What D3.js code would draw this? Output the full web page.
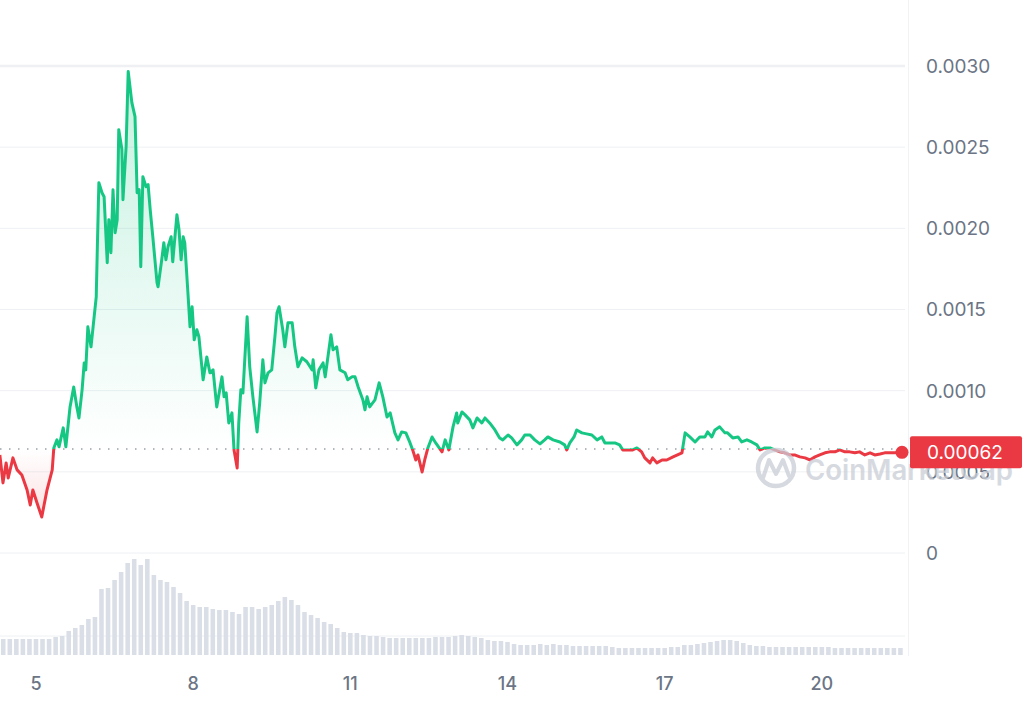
<!DOCTYPE html>
<html>
<head>
<meta charset="utf-8">
<script src="https://cdn.jsdelivr.net/npm/d3@7"></script>
<style>
  html, body { margin: 0; padding: 0; background: #fff; }
  svg { display: block; font-family: Inter, "Noto Sans", sans-serif; }
</style>
</head>
<body>
<svg id="chart" width="1024" height="704"></svg>
<script>
// ---------------- DATA ----------------
// day of month (fractional) for each price sample
const priceDays = [4.31,4.37,4.43,4.47,4.56,4.64,4.73,4.83,4.89,4.94,5.02,5.11,5.21,5.31,5.34,5.40,5.44,5.52,5.57,5.65,
5.72,5.78,5.82,5.88,5.92,5.95,5.99,6.05,6.09,6.15,6.16,6.20,6.26,6.30,6.36,6.39,6.43,6.47,6.51,6.55,
6.58,6.64,6.66,6.72,6.76,6.83,6.89,6.93,6.97,7.00,7.04,7.10,7.14,7.18,7.23,7.31,7.33,7.40,7.44,7.48,
7.52,7.58,7.61,7.69,7.73,7.77,7.81,7.84,7.90,7.94,7.98,8.02,8.07,8.11,8.19,8.26,8.32,8.38,8.45,8.55,
8.59,8.63,8.68,8.74,8.78,8.84,8.87,8.91,8.95,9.03,9.08,9.14,9.22,9.27,9.33,9.37,9.43,9.50,9.56,9.60,
9.64,9.71,9.75,9.81,9.89,9.94,10.00,10.08,10.17,10.27,10.29,10.34,10.40,10.48,10.52,10.63,10.67,10.74,10.80,10.90,
10.95,11.03,11.09,11.15,11.24,11.28,11.32,11.37,11.47,11.55,11.62,11.70,11.76,11.85,11.91,11.98,12.06,12.14,12.19,12.25,
12.29,12.37,12.42,12.48,12.56,12.63,12.75,12.81,12.88,12.96,13.03,13.05,13.13,13.19,13.28,13.34,13.42,13.51,13.57,13.66,
13.76,13.85,13.91,14.01,14.08,14.18,14.27,14.33,14.43,14.52,14.62,14.71,14.77,14.87,15.00,15.09,15.13,15.19,15.27,15.32,
15.42,15.51,15.61,15.71,15.80,15.86,15.95,16.05,16.14,16.20,16.30,16.39,16.47,16.56,16.62,16.72,16.77,16.85,16.95,17.04,
17.16,17.33,17.39,17.48,17.58,17.67,17.77,17.82,17.90,17.96,18.05,18.15,18.20,18.30,18.40,18.47,18.57,18.66,18.76,18.82,
18.91,19.01,19.10,19.20,19.29,19.39,19.48,19.58,19.68,19.77,19.87,19.96,20.06,20.15,20.25,20.34,20.44,20.53,20.63,20.72,
20.82,20.92,21.01,21.11,21.20,21.30,21.39,21.53];

// price (USD)
const prices = [0.000604,0.000432,0.000555,0.000462,0.000586,0.000512,0.000481,0.000388,0.000296,0.000388,0.000308,0.000222,0.000388,0.000512,0.000647,0.000697,0.000654,0.000771,0.000654,0.000900,
0.001023,0.000900,0.000832,0.001005,0.001171,0.001128,0.001393,0.001270,0.001393,0.001578,0.001726,0.002281,0.002219,0.002195,0.001788,0.002053,0.001850,0.002238,0.001973,0.002053,
0.002608,0.002485,0.002176,0.002503,0.002966,0.002774,0.002688,0.002219,0.002238,0.001763,0.002318,0.002256,0.002269,0.002115,0.001948,0.001665,0.001640,0.001806,0.001911,0.001806,
0.001887,0.001948,0.001794,0.002084,0.001991,0.001806,0.001948,0.001911,0.001603,0.001393,0.001517,0.001313,0.001375,0.001332,0.001067,0.001208,0.001110,0.001128,0.000900,0.001085,
0.000962,0.000986,0.000801,0.000863,0.000635,0.000524,0.000801,0.001005,0.000986,0.001455,0.001147,0.000962,0.000746,0.000925,0.001190,0.001048,0.001110,0.001128,0.001332,0.001480,
0.001517,0.001375,0.001270,0.001418,0.001418,0.001270,0.001147,0.001202,0.001178,0.001128,0.001190,0.001017,0.001128,0.001171,0.001085,0.001344,0.001252,0.001270,0.001128,0.001110,
0.001067,0.001085,0.001085,0.001023,0.000943,0.000882,0.000962,0.000900,0.000943,0.001048,0.000962,0.000838,0.000863,0.000740,0.000697,0.000746,0.000740,0.000678,0.000635,0.000573,
0.000604,0.000499,0.000573,0.000647,0.000715,0.000678,0.000623,0.000697,0.000635,0.000777,0.000863,0.000801,0.000869,0.000851,0.000820,0.000771,0.000832,0.000801,0.000832,0.000801,
0.000758,0.000709,0.000697,0.000727,0.000709,0.000666,0.000697,0.000727,0.000727,0.000697,0.000672,0.000697,0.000715,0.000697,0.000684,0.000666,0.000635,0.000678,0.000715,0.000758,
0.000740,0.000734,0.000727,0.000697,0.000715,0.000678,0.000678,0.000678,0.000666,0.000635,0.000635,0.000635,0.000647,0.000623,0.000586,0.000555,0.000586,0.000555,0.000573,0.000573,
0.000592,0.000617,0.000740,0.000715,0.000684,0.000715,0.000715,0.000746,0.000715,0.000758,0.000777,0.000740,0.000740,0.000709,0.000715,0.000684,0.000697,0.000684,0.000666,0.000635,
0.000647,0.000647,0.000635,0.000623,0.000617,0.000604,0.000604,0.000592,0.000586,0.000573,0.000592,0.000604,0.000617,0.000623,0.000623,0.000635,0.000623,0.000623,0.000617,0.000623,
0.000604,0.000617,0.000604,0.000610,0.000617,0.000617,0.000617,0.000620];

const openPrice = 0.000641;     // dotted reference line
const lastPriceLabel = "0.00062";

// volume, one bar every 3 hours starting at day 4.375 (relative units)
const volStartDay = 4.375;
const volStepDays = 0.125;
const volumes = [16,16,16,16,16,16,16,16,18,19,24,27,30,36,38,66,67,75,83,92,
96,90,96,80,75,73,68,62,54,50,48,48,46,45,45,43,41,48,48,46,
48,50,54,58,55,50,43,40,37,33,31,27,23,22,22,20,19,19,18,17,
17,17,17,17,17,17,18,18,18,19,20,19,18,17,15,14,14,13,11,10,
10,10,11,10,11,10,10,9,9,9,9,9,9,8,7,7,7,7,7,7,
7,7,8,8,10,10,11,12,13,14,15,15,14,12,10,9,9,8,8,8,
8,8,8,8,8,8,8,7,7,7,7,7,7,7,7,7,7,7];

const yTickValues = [0, 0.0005, 0.0010, 0.0015, 0.0020, 0.0025, 0.0030];
const yTickLabels = ["0", "0.0005", "0.0010", "0.0015", "0.0020", "0.0025", "0.0030"];
const xTickValues = [5, 8, 11, 14, 17, 20];

// ---------------- CHART ----------------
const GREEN = "#16c784", RED = "#ea3943";
const svg = d3.select("#chart");
const plotRight = 905;

const x = d3.scaleLinear().domain([4.313, 21.53]).range([0, 902]);
const y = d3.scaleLinear().domain([0, 0.003]).range([553, 66]);
const yv = d3.scaleLinear().domain([0, 100]).range([655, 555]);
const yBase = y(openPrice);

const defs = svg.append("defs");
const gGrad = defs.append("linearGradient").attr("id", "gGrad")
  .attr("gradientUnits", "userSpaceOnUse").attr("x1", 0).attr("x2", 0).attr("y1", y(0.003)).attr("y2", yBase);
gGrad.append("stop").attr("offset", 0).attr("stop-color", GREEN).attr("stop-opacity", 0.25);
gGrad.append("stop").attr("offset", 1).attr("stop-color", GREEN).attr("stop-opacity", 0.0);
const rGrad = defs.append("linearGradient").attr("id", "rGrad")
  .attr("gradientUnits", "userSpaceOnUse").attr("x1", 0).attr("x2", 0).attr("y1", yBase).attr("y2", y(0.0002));
rGrad.append("stop").attr("offset", 0).attr("stop-color", RED).attr("stop-opacity", 0.0);
rGrad.append("stop").attr("offset", 1).attr("stop-color", RED).attr("stop-opacity", 0.16);

defs.append("clipPath").attr("id", "clipAbove").append("rect")
  .attr("x", -10).attr("y", 0).attr("width", 1040).attr("height", yBase);
defs.append("clipPath").attr("id", "clipBelow").append("rect")
  .attr("x", -10).attr("y", yBase).attr("width", 1040).attr("height", 704 - yBase);

// grid lines
svg.append("g").selectAll("line").data(yTickValues).join("line")
  .attr("x1", 0).attr("x2", plotRight)
  .attr("y1", d => y(d)).attr("y2", d => y(d))
  .attr("stroke", "#eef0f3").attr("stroke-width", d => d === 0.003 ? 2.5 : 1);
svg.append("line").attr("x1", 0).attr("x2", plotRight).attr("y1", 636).attr("y2", 636)
  .attr("stroke", "#eef0f3");
svg.append("line").attr("x1", 908.5).attr("x2", 908.5).attr("y1", 0).attr("y2", 656)
  .attr("stroke", "#f0f2f5");

// volume bars
const volTimes = volumes.map((v, i) => volStartDay + i * volStepDays);
const bw = (x(volStepDays) - x(0)) - 2;
svg.append("g").selectAll("rect").data(volumes).join("rect")
  .attr("x", (d, i) => x(volTimes[i]) - bw / 2)
  .attr("width", bw)
  .attr("y", d => yv(d))
  .attr("height", d => yv(0) - yv(d))
  .attr("fill", "#d9dee7");

// price area & line
const pts = prices.map((p, i) => [priceDays[i], p]);
const area = d3.area().x(d => x(d[0])).y0(yBase).y1(d => y(d[1]));
const line = d3.line().x(d => x(d[0])).y(d => y(d[1]));

svg.append("path").datum(pts).attr("d", area).attr("fill", "url(#gGrad)").attr("clip-path", "url(#clipAbove)");
svg.append("path").datum(pts).attr("d", area).attr("fill", "url(#rGrad)").attr("clip-path", "url(#clipBelow)");

// dotted baseline
svg.append("line").attr("x1", 0).attr("x2", plotRight).attr("y1", yBase).attr("y2", yBase)
  .attr("stroke", "#9aa1ab").attr("stroke-width", 1.5).attr("stroke-dasharray", "1.5,7.5");

svg.append("path").datum(pts).attr("d", line).attr("fill", "none").attr("stroke", GREEN)
  .attr("stroke-width", 3).attr("stroke-linejoin", "round").attr("clip-path", "url(#clipAbove)");
svg.append("path").datum(pts).attr("d", line).attr("fill", "none").attr("stroke", RED)
  .attr("stroke-width", 3).attr("stroke-linejoin", "round").attr("clip-path", "url(#clipBelow)");

// y axis labels
svg.append("g").selectAll("text").data(yTickValues).join("text")
  .attr("x", 926).attr("y", d => y(d)).attr("dy", "0.36em")
  .attr("font-size", 19).attr("fill", "#6b7585")
  .text((d, i) => yTickLabels[i]);

// x axis labels
svg.append("g").selectAll("text").data(xTickValues).join("text")
  .attr("x", d => x(d)).attr("y", 690).attr("text-anchor", "middle")
  .attr("font-size", 18).attr("font-weight", 500).attr("fill", "#6b7585")
  .text(d => d);

// watermark
const wm = svg.append("g").attr("opacity", 0.75);
wm.append("circle").attr("cx", 776).attr("cy", 468).attr("r", 18)
  .attr("fill", "none").attr("stroke", "#c9ced6").attr("stroke-width", 4.5);
wm.append("path").attr("d", "M763,478 L769,460 L776,474 L783,460 L789,476")
  .attr("fill", "none").attr("stroke", "#c9ced6").attr("stroke-width", 4).attr("stroke-linejoin", "round").attr("stroke-linecap", "round");
wm.append("text").attr("x", 805).attr("y", 480).attr("font-size", 28).attr("font-weight", 600)
  .attr("fill", "#c9ced6").attr("textLength", 208).attr("lengthAdjust", "spacingAndGlyphs")
  .text("CoinMarketCap");

// last price marker and label
const last = pts[pts.length - 1];
svg.append("circle").attr("cx", x(last[0])).attr("cy", y(last[1])).attr("r", 6.5).attr("fill", RED);
svg.append("rect").attr("x", 910).attr("y", y(last[1]) - 16).attr("width", 112).attr("height", 32)
  .attr("fill", RED).attr("rx", 2);
svg.append("text").attr("x", 927).attr("y", y(last[1])).attr("dy", "0.36em")
  .attr("font-size", 19).attr("fill", "#fff").text(lastPriceLabel);
</script>
</body>
</html>
